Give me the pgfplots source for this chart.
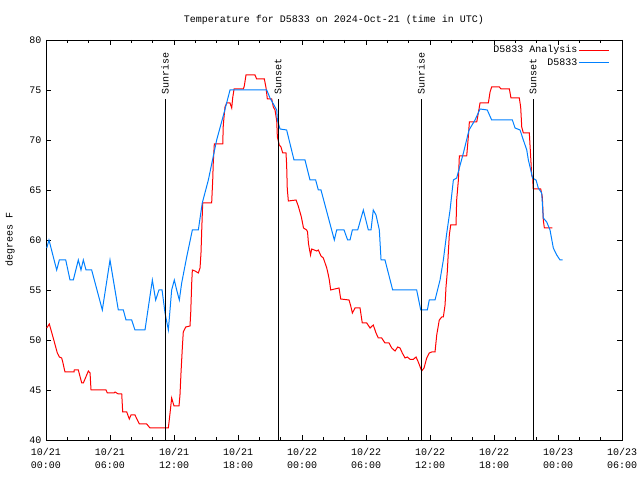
\documentclass[border=0pt]{standalone}
\usepackage{pgfplots}
\pgfplotsset{compat=1.18}
\usepackage{fontspec}
\setmainfont{Liberation Mono}
\definecolor{gpred}{RGB}{255,0,0}
\definecolor{gpblue}{RGB}{0,128,255}
\begin{document}
\fontsize{10bp}{13bp}\selectfont
\begin{tikzpicture}[x=1bp,y=1bp]
\useasboundingbox (0,0) rectangle (640,480);
\node at (334,460) {Temperature for D5833 on 2024-Oct-21 (time in UTC)};
\node[rotate=90] at (10,240) {degrees F};
\begin{axis}[
  at={(46bp,40bp)}, anchor=south west,
  scale only axis, width=576bp, height=400bp,
  xmin=0, xmax=54, ymin=40, ymax=80,
  xtick={0,6,...,54},
  xticklabels={{10/21\\00:00},{10/21\\06:00},{10/21\\12:00},{10/21\\18:00},{10/22\\00:00},{10/22\\06:00},{10/22\\12:00},{10/22\\18:00},{10/23\\00:00},{10/23\\06:00}},
  xticklabel style={align=center, font=\fontsize{10bp}{13bp}\selectfont, yshift=-5bp},
  minor x tick num=2,
  ytick={40,45,...,80},
  yticklabel style={font=\fontsize{10bp}{13bp}\selectfont, xshift=-1bp},
  /pgf/number format/assume math mode=true,
  tick align=inside,
  major tick length=5bp, minor tick length=3bp,
  axis line style={line width=0.8bp},
  every tick/.style={black, line width=0.8bp},
  legend cell align=right,
  legend plot pos=right,
  legend style={at={(rel axis cs:1,1)}, anchor=north east, xshift=-10bp, yshift=-2bp,
    draw=none, fill=none,
    font=\fontsize{10bp}{12bp}\selectfont, row sep=1bp, inner sep=2bp,
    nodes={inner sep=1.5bp}},
  legend image code/.code={\draw[#1] (0bp,0bp) -- (30bp,0bp);},
]
\addplot[gpred, line width=1bp] coordinates {
(0.07,51.2) (0.31,51.6) (0.68,50.2) (1.06,48.7) (1.25,48.3) (1.47,48.2) (1.57,47.8) (1.78,46.8)
(2.63,46.8) (2.65,47) (3.03,47) (3.35,45.7) (3.5,45.7) (3.97,46.9) (4.13,46.7) (4.22,45)
(5.63,45) (5.75,44.7) (6.38,44.7) (6.47,44.8) (6.78,44.6) (7.1,44.6) (7.19,42.8) (7.57,42.8)
(7.81,42.1) (7.97,42.5) (8.34,42.5) (8.75,41.6) (9.44,41.6) (9.75,41.2) (11.47,41.2)
(11.63,42.7) (11.78,44.2) (12.0,43.4) (12.47,43.4) (12.56,44.5) (12.66,46.8) (12.78,49.2)
(12.87,50.8) (13.1,51.3) (13.5,51.4) (13.57,52.8) (13.66,55.7) (13.72,57) (13.97,56.9)
(14.28,56.7) (14.44,57.2) (14.53,58.7) (14.6,61) (14.69,63.7) (15.53,63.7) (15.63,66)
(15.68,67.7) (15.78,69.6) (16.57,69.6) (16.62,71.5) (16.78,73.3) (16.94,73.7) (17.25,73.7)
(17.41,73.2) (17.5,74.2) (17.63,75.1) (18.5,75.1) (18.59,75.4) (18.75,76.5) (19.59,76.5)
(19.75,76.1) (20.47,76.1) (20.63,75.2) (20.75,74.1) (21.16,74.1) (21.31,73.3) (21.47,73)
(21.63,71.9) (21.69,70.3) (21.87,69.5) (22.03,69.3) (22.19,68.7) (22.5,68.7) (22.56,67.5)
(22.62,65.1) (22.72,63.9) (23.44,64) (23.65,63.4) (23.94,62.3) (24.14,61.2) (24.44,61)
(24.52,60.8) (24.6,59.7) (24.66,59.3) (24.8,58.5) (24.91,59.1) (25.38,58.9) (25.53,59)
(25.78,58.4) (26.0,58.2) (26.16,57.7) (26.32,57.2) (26.47,56.5) (26.56,56) (26.69,55)
(26.94,55.07) (27.47,55.2) (27.63,54.1) (28.41,54) (28.57,53.4) (28.72,52.7) (28.97,53.2)
(29.44,53.2) (29.65,51.7) (30.07,51.7) (30.38,51.2) (30.68,51.5) (30.94,50.7) (31.15,50.2)
(31.47,50.2) (31.78,49.7) (32.16,49.7) (32.41,49.2) (32.72,48.9) (32.97,49.3) (33.19,49.2)
(33.4,48.7) (33.66,48.2) (33.87,48.3) (34.13,48.07) (34.44,48.07) (34.69,48.3) (34.9,47.8)
(35.22,46.9) (35.44,47.2) (35.69,48.2) (35.93,48.7) (36.16,48.8) (36.47,48.8) (36.63,50.5)
(36.87,52) (37.1,52.3) (37.25,52.3) (37.41,53.5) (37.5,55.3) (37.62,56.8) (37.72,58.8)
(37.81,60.5) (37.94,61.5) (38.44,61.5) (38.5,64) (38.66,66) (38.75,68.4) (39.44,68.4)
(39.59,70.3) (39.69,71.8) (40.38,71.8) (40.53,72.7) (40.69,73.7) (41.47,73.7) (41.63,74.8)
(41.78,75.3) (42.5,75.3) (42.66,75.1) (43.44,75.1) (43.59,74.2) (44.37,74.2) (44.5,73.3)
(44.6,71.3) (44.75,70.7) (45.31,70.7) (45.44,68.3) (45.53,66.5) (45.63,66.2) (45.68,65.1)
(46.38,65.1) (46.53,64.3) (46.62,62) (46.72,61.2) (47.47,61.2)
};
\addlegendentry{D5833 Analysis}
\addplot[gpblue, line width=1bp] coordinates {
(0.07,59.2) (0.28,60) (1.0,57) (1.25,58) (1.85,58) (2.25,56) (2.56,56) (3.03,58) (3.28,57)
(3.5,58) (3.75,57) (4.28,57) (5.28,53) (6.0,58) (6.78,53) (7.25,53) (7.5,52) (8.03,52)
(8.34,51) (9.28,51) (9.97,56) (10.28,54) (10.59,55) (10.88,55) (11.16,52.7) (11.47,51)
(11.78,55) (12.03,56) (12.25,55) (12.5,54) (12.72,55.7) (13.19,58.3) (13.72,61) (14.28,61)
(14.65,63.7) (15.22,66) (16.0,70) (16.69,72.7) (17.25,75) (20.69,75) (21.0,74.2) (21.63,73)
(21.69,72) (21.94,71.1) (22.56,71) (23.25,68) (24.28,68) (24.75,66) (25.28,66) (25.53,65)
(25.78,65) (27.03,60) (27.25,61) (27.94,61) (28.28,60) (28.5,60) (28.72,61) (29.22,61)
(29.75,63) (30.22,61) (30.47,61) (30.68,63) (30.94,62.5) (31.25,61) (31.41,58) (31.78,58)
(32.5,55) (34.75,55) (35.13,53) (35.75,53) (35.93,54) (36.47,54) (36.94,56) (37.25,58)
(37.57,60.7) (37.88,63) (38.19,66) (38.5,66.2) (38.75,67.2) (39.13,68.7) (39.66,71)
(40.22,72) (40.69,73.1) (41.37,73) (41.78,72) (43.72,72) (43.97,71.2) (44.44,71) (44.75,70)
(45.07,69) (45.22,68) (45.38,67.3) (45.61,66.2) (45.94,66) (46.15,65.2) (46.47,64.7)
(46.62,62.2) (46.94,61.8) (47.25,61) (47.56,59.2) (47.88,58.5) (48.19,58) (48.44,58)
};
\addlegendentry{D5833}
\addplot[black, line width=1bp, forget plot] coordinates {(11.16,40) (11.16,74.1)};
\addplot[black, line width=1bp, forget plot] coordinates {(21.75,40) (21.75,74.1)};
\addplot[black, line width=1bp, forget plot] coordinates {(35.16,40) (35.16,74.1)};
\addplot[black, line width=1bp, forget plot] coordinates {(45.66,40) (45.66,74.1)};
\node[rotate=90, anchor=west, inner sep=1bp] at (axis cs:11.16,74.4) {Sunrise};
\node[rotate=90, anchor=west, inner sep=1bp] at (axis cs:21.75,74.4) {Sunset};
\node[rotate=90, anchor=west, inner sep=1bp] at (axis cs:35.16,74.4) {Sunrise};
\node[rotate=90, anchor=west, inner sep=1bp] at (axis cs:45.66,74.4) {Sunset};
\end{axis}
\end{tikzpicture}
\end{document}
